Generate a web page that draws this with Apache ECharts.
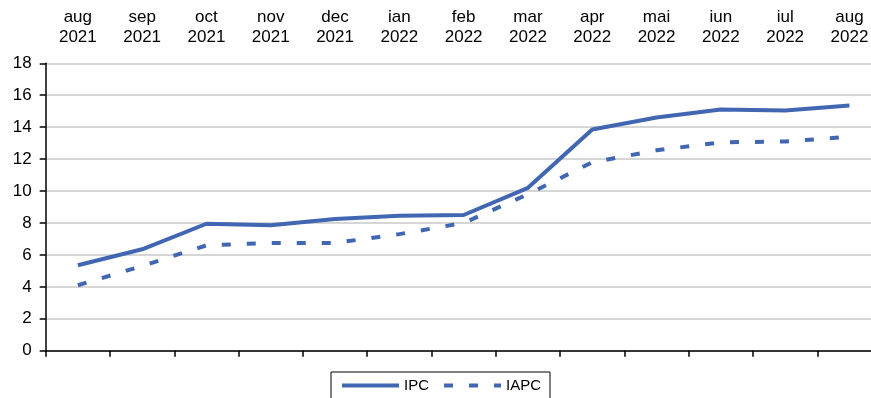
<!DOCTYPE html>
<html>
<head>
<meta charset="utf-8">
<script src="https://cdn.jsdelivr.net/npm/echarts@6/dist/echarts.min.js"></script>
<style>
html,body{margin:0;padding:0;background:#fff;}
#chart{width:871px;height:398px;}
</style>
</head>
<body>
<div id="chart"></div>
<script>
const categories = ['aug\n2021','sep\n2021','oct\n2021','nov\n2021','dec\n2021','ian\n2022','feb\n2022','mar\n2022','apr\n2022','mai\n2022','iun\n2022','iul\n2022','aug\n2022'];
const ipc  = [5.35, 6.35, 7.95, 7.85, 8.25, 8.45, 8.5, 10.2, 13.85, 14.6, 15.1, 15.05, 15.35];
const iapc = [4.1, 5.3, 6.6, 6.75, 6.75, 7.3, 8.0, 9.8, 11.8, 12.55, 13.05, 13.1, 13.4];
const yTicks = {min: 0, max: 18, interval: 2};

const blue = '#4166b2';
const font = 'Liberation Sans, Arial, sans-serif';
const chart = echarts.init(document.getElementById('chart'));
chart.setOption({
  animation: false,
  backgroundColor: '#fff',
  grid: {left: 45.7, right: -10.6, top: 63.3, bottom: 47.3, outerBoundsMode: 'none', containLabel: false},
  legend: {
    left: 331, top: 372,
    padding: [6, 9, 12, 9],
    itemGap: 13, itemWidth: 57, itemHeight: 14,
    borderColor: '#000', borderWidth: 1,
    itemStyle: {opacity: 0},
    lineStyle: {width: 4},
    textStyle: {fontFamily: font, fontSize: 15, color: '#000'},
    data: ['IPC', 'IAPC']
  },
  xAxis: [
    {
      type: 'category', position: 'bottom', data: categories,
      boundaryGap: true,
      axisLine: {show: true, lineStyle: {color: '#000', width: 1.5}},
      axisTick: {show: true, length: 6, lineStyle: {color: '#000', width: 1.5}},
      axisLabel: {show: false},
      splitLine: {show: false}
    },
    {
      type: 'category', position: 'top', data: categories,
      boundaryGap: true,
      axisLine: {show: false}, axisTick: {show: false},
      axisLabel: {show: true, fontFamily: font, fontSize: 17, color: '#000', lineHeight: 20, margin: 16},
      splitLine: {show: false}
    }
  ],
  yAxis: {
    type: 'value', min: yTicks.min, max: yTicks.max, interval: yTicks.interval,
    axisLine: {show: true, lineStyle: {color: '#000', width: 1.5}},
    axisTick: {show: true, length: 6, lineStyle: {color: '#000', width: 1.5}},
    axisLabel: {fontFamily: font, fontSize: 17, color: '#000', margin: 14},
    splitLine: {show: true, lineStyle: {color: '#c8c8c8', width: 1.5}}
  },
  series: [
    {
      name: 'IPC', type: 'line', data: ipc, xAxisIndex: 0,
      symbol: 'none', showSymbol: false,
      lineStyle: {color: blue, width: 4}, itemStyle: {color: blue}
    },
    {
      name: 'IAPC', type: 'line', data: iapc, xAxisIndex: 0,
      symbol: 'none', showSymbol: false,
      lineStyle: {color: blue, width: 4, type: [9, 16]}, itemStyle: {color: blue}
    }
  ]
});
</script>
</body>
</html>
